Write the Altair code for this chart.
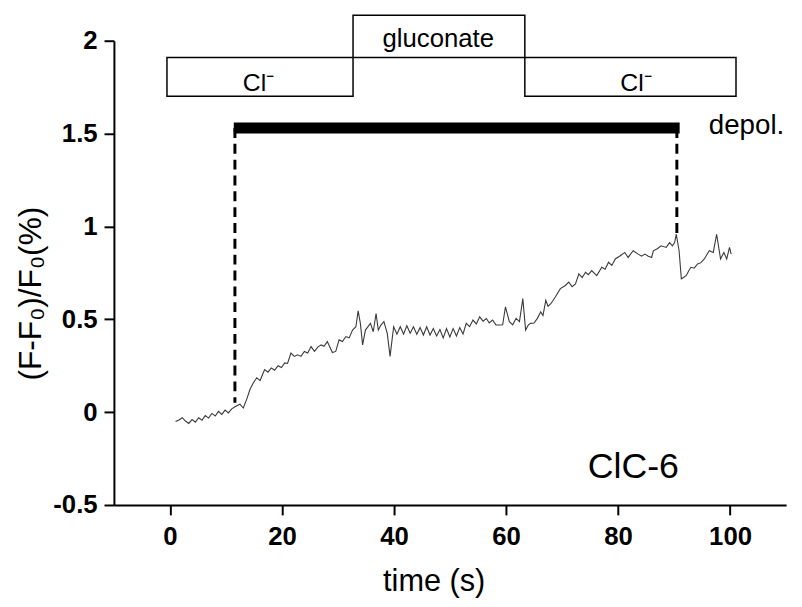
import altair as alt
import pandas as pd

FONT = "Liberation Sans"

# ---- trace data (time in s, (F-F0)/F0 in %) ----
time_s = [1.0, 1.6, 2.2, 2.77, 3.36, 3.95, 4.54, 5.13, 5.72, 6.31, 6.90, 7.49, 8.08, 8.67,
          9.26, 9.85, 10.44, 11.03, 11.62, 12.5, 13.1, 13.7, 14.3, 14.9, 15.5, 16.1, 16.9,
          17.5, 18.1, 18.7, 19.3, 19.9, 20.5, 21.0, 21.6, 22.2, 22.8, 23.4, 24.0, 24.6, 25.2,
          25.8, 26.4, 27.0, 27.5, 28.1, 29.0, 29.6, 30.2, 30.8, 31.4, 32.0, 32.6, 33.2, 33.6,
          34.0, 34.4, 34.9, 35.8, 36.3, 36.8, 37.2, 37.7, 38.2, 38.8, 39.3, 39.94, 40.53,
          41.12, 41.71, 42.30, 42.89, 43.48, 44.07, 44.66, 45.25, 45.84, 46.43, 47.02, 47.61,
          48.20, 48.79, 49.38, 49.97, 50.56, 51.15, 51.74, 52.33, 52.9, 53.5, 54.1, 54.7, 55.3,
          55.9, 56.5, 57.0, 57.6, 58.2, 58.8, 59.4, 59.9, 60.6, 61.2, 61.8, 62.4, 63.0, 63.5,
          64.0, 64.4, 65.0, 65.6, 66.2, 66.6, 67.1, 67.5, 68.0, 68.8, 69.7, 70.6, 71.2, 71.8,
          72.4, 73.0, 73.6, 74.2, 74.7, 75.3, 76.2, 77.1, 77.7, 78.3, 78.9, 79.5, 80.4, 81.2,
          81.8, 82.7, 83.6, 84.2, 84.8, 85.4, 86.0, 86.3, 87.0, 87.7, 88.6, 89.2, 89.7, 90.1,
          90.4, 90.9, 91.3, 91.7, 92.2, 92.6, 93.0, 93.6, 94.2, 94.8, 95.4, 95.9, 96.3, 97.0,
          97.6, 98.3, 98.9, 99.4, 99.9, 100.2]
signal = [-0.051, -0.042, -0.030, -0.048, -0.061, -0.040, -0.054, -0.030, -0.043, -0.018,
          -0.032, -0.007, -0.021, 0.004, -0.012, 0.011, -0.004, 0.018, 0.029, 0.043, 0.022,
          0.069, 0.123, 0.158, 0.185, 0.170, 0.229, 0.215, 0.238, 0.226, 0.250, 0.240, 0.265,
          0.262, 0.318, 0.300, 0.309, 0.300, 0.327, 0.318, 0.353, 0.327, 0.350, 0.362, 0.355,
          0.380, 0.321, 0.327, 0.389, 0.380, 0.407, 0.400, 0.442, 0.460, 0.545, 0.478, 0.362,
          0.442, 0.478, 0.433, 0.531, 0.442, 0.470, 0.487, 0.424, 0.300, 0.460, 0.420, 0.460,
          0.420, 0.465, 0.425, 0.460, 0.420, 0.455, 0.415, 0.460, 0.415, 0.450, 0.410, 0.445,
          0.400, 0.450, 0.405, 0.450, 0.410, 0.455, 0.420, 0.478, 0.460, 0.496, 0.475, 0.513,
          0.490, 0.504, 0.480, 0.496, 0.470, 0.469, 0.470, 0.567, 0.487, 0.470, 0.505, 0.487,
          0.611, 0.442, 0.470, 0.478, 0.480, 0.505, 0.540, 0.520, 0.602, 0.570, 0.584, 0.620,
          0.665, 0.682, 0.700, 0.675, 0.690, 0.745, 0.725, 0.753, 0.740, 0.762, 0.735, 0.780,
          0.770, 0.807, 0.790, 0.825, 0.842, 0.860, 0.833, 0.869, 0.851, 0.840, 0.851, 0.840,
          0.833, 0.869, 0.880, 0.896, 0.887, 0.913, 0.895, 0.913, 0.958, 0.869, 0.718, 0.725,
          0.736, 0.760, 0.780, 0.775, 0.798, 0.805, 0.825, 0.850, 0.869, 0.860, 0.958, 0.825,
          0.860, 0.825, 0.887, 0.851]

# ---- solution boxes on top ----
box_label = ["Cl⁻", "gluconate", "Cl⁻"]
box_start = [-0.53, 32.69, 63.36]
box_end = [32.69, 63.36, 101.06]
box_low = [1.701, 1.909, 1.701]
box_high = [1.909, 2.137, 1.909]
label_x = [15.8, 47.9, 83.2]
label_y = [1.73, 1.966, 1.73]
label_size = [25, 26, 25]

# ---- depolarisation bar and dashed markers ----
depol_start = [11.4]
depol_end = [91.0]
depol_level = [1.53]
dash_x = [11.6, 90.5]
dash_top = [1.53, 1.53]
dash_bottom = [0.05, 0.955]

# ---- free annotations ----
note_text = ["depol.", "ClC-6"]
note_x = [96.2, 74.6]
note_y = [1.497, -0.357]
note_size = [28, 36]

x_ticks = [0, 20, 40, 60, 80, 100]
y_ticks = [-0.5, 0, 0.5, 1, 1.5, 2]

xs = alt.Scale(domain=[-10, 110], nice=False, zero=False)
ys = alt.Scale(domain=[-0.5, 2], nice=False, zero=False)

x_axis = alt.Axis(values=x_ticks, title="time (s)", grid=False, domainColor="black",
                  domainWidth=2, tickColor="black", tickWidth=2, tickSize=10,
                  labelFont=FONT, labelFontSize=26, labelFontWeight="bold",
                  labelColor="black", labelPadding=9, titleFont=FONT, titleFontSize=31,
                  titleFontWeight="normal", titleColor="black", titleX=323,
                  titleY=86, titleAlign="center", titleBaseline="alphabetic")
y_axis = alt.Axis(values=y_ticks, title="(F-F₀)/F₀(%)", grid=False, domainColor="black",
                  domainWidth=2, tickColor="black", tickWidth=2, tickSize=10,
                  labelFont=FONT, labelFontSize=26, labelFontWeight="bold",
                  labelColor="black", labelPadding=7,
                  labelExpr="datum.value < 0 ? '-' + format(-datum.value, '') : format(datum.value, '')",
                  titleFont=FONT, titleFontSize=32, titleFontWeight="normal",
                  titleColor="black", titleAngle=270, titleX=-84, titleY=255,
                  titleAlign="center", titleBaseline="middle")

trace_df = pd.DataFrame({"t": time_s, "v": signal})
box_df = pd.DataFrame({"x0": box_start, "x1": box_end, "y0": box_low, "y1": box_high,
                       "lab": box_label, "lx": label_x, "ly": label_y, "s": label_size})
bar_df = pd.DataFrame({"x0": depol_start, "x1": depol_end, "y": depol_level})
dash_df = pd.DataFrame({"x": dash_x, "y0": dash_top, "y1": dash_bottom})
note_df = pd.DataFrame({"txt": note_text, "x": note_x, "y": note_y, "s": note_size})

trace = alt.Chart(trace_df).mark_line(color="#3a3a3a", strokeWidth=1.1).encode(
    x=alt.X("t:Q", scale=xs, axis=x_axis),
    y=alt.Y("v:Q", scale=ys, axis=y_axis),
)

boxes = alt.Chart(box_df).mark_rect(fill="white", fillOpacity=0, stroke="black",
                                     strokeWidth=1.5).encode(
    x=alt.X("x0:Q", scale=xs, axis=x_axis), x2="x1:Q",
    y=alt.Y("y0:Q", scale=ys, axis=y_axis), y2="y1:Q",
)

box_labels = alt.Chart(box_df).mark_text(font=FONT, color="black",
                                         align="center", baseline="alphabetic").encode(
    x=alt.X("lx:Q", scale=xs, axis=x_axis),
    y=alt.Y("ly:Q", scale=ys, axis=y_axis),
    text="lab:N",
    size=alt.Size("s:Q", scale=None, legend=None),
)

bar = alt.Chart(bar_df).mark_rule(color="black", strokeWidth=11, strokeCap="butt").encode(
    x=alt.X("x0:Q", scale=xs, axis=x_axis), x2="x1:Q",
    y=alt.Y("y:Q", scale=ys, axis=y_axis),
)

dashes = alt.Chart(dash_df).mark_rule(color="black", strokeWidth=3,
                                      strokeDash=[10, 6]).encode(
    x=alt.X("x:Q", scale=xs, axis=x_axis),
    y=alt.Y("y0:Q", scale=ys, axis=y_axis), y2="y1:Q",
)

notes = alt.Chart(note_df).mark_text(font=FONT, color="black", align="left",
                                     baseline="alphabetic").encode(
    x=alt.X("x:Q", scale=xs, axis=x_axis),
    y=alt.Y("y:Q", scale=ys, axis=y_axis),
    text="txt:N",
    size=alt.Size("s:Q", scale=None, legend=None),
)

chart = alt.layer(boxes, box_labels, dashes, bar, trace, notes).properties(
    width=679, height=469,
    padding={"left": 107, "top": 30, "right": 8, "bottom": 100},
    autosize=alt.AutoSizeParams(type="none"),
    background="white",
).configure_view(stroke=None)

chart.save("out.html", embed_options={"renderer": "svg", "actions": False})
